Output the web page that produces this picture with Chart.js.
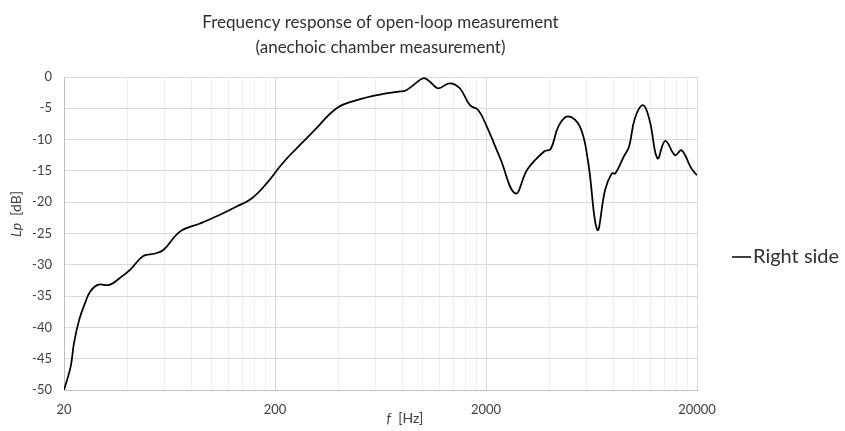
<!DOCTYPE html>
<html>
<head>
<meta charset="utf-8">
<script src="https://cdn.jsdelivr.net/npm/chart.js@4.4.0/dist/chart.umd.min.js"></script>
<style>
  html, body { margin: 0; padding: 0; background: #fff; }
  #wrap { width: 845px; height: 431px; }
</style>
</head>
<body>
<div id="wrap"><canvas id="myChart" width="845" height="431"></canvas></div>
<script>
// data
let freqs = [20, 21.5, 22.3, 23.6, 25.1, 26.6, 28.9, 32.9, 36.8, 41.1, 47.5, 54.1, 59.3, 70.9, 88.2, 109.8,
  131.6, 155, 182.6, 211, 235, 262, 304, 392, 488, 628, 786, 829, 905, 1010, 1084, 1184, 1346, 1503,
  1678, 1840, 2016, 2336, 2755, 3150, 3770, 4050, 4420, 4900, 5570, 6080, 6740, 7340, 7900, 8200,
  9000, 9530, 10160, 11100, 11920, 13000, 14140, 15760, 16900, 18800, 20000]
let levels = [-50, -46.3, -42.5, -38.8, -36.2, -34.3, -33.2, -33.2, -32.1, -30.8, -28.6, -28.2, -27.6, -24.7, -23.4, -22.0,
  -20.7, -19.4, -17.0, -14.3, -12.5, -10.9, -8.7, -5.0, -3.7, -2.8, -2.3, -2.2, -1.3, -0.2, -0.75, -1.8, -1.0, -1.8,
  -4.5, -5.3, -7.9, -13.0, -18.6, -14.7, -11.9, -11.5, -7.8, -6.3, -7.9, -13.3, -24.4, -18.0, -15.4, -15.4,
  -12.7, -11.1, -6.6, -4.5, -6.9, -13.0, -10.2, -12.5, -11.7, -14.6, -15.7]
let xLabels = [20, 200, 2000, 20000]
let seriesName = 'Right side'
let titleLines = ['Frequency response of open-loop measurement', '(anechoic chamber measurement)']

let font = 'Lato'
let textColor = '#303030'
let tickColor = '#404040'

let points = freqs.map((f, i) => ({ x: f, y: levels[i] }))

// gridline positions like excel: 20,40,...,180,200,400,...
let xTicks = []
for (let d = 20; d <= 20000; d *= 10) {
  for (let k = 1; k <= 9; k++) {
    let v = d * k
    if (v <= 20000) xTicks.push(v)
  }
}

// axis titles (italic symbol + normal unit) and the legend on the right
let extras = {
  id: 'extras',
  afterDraw(chart) {
    let c = chart.ctx
    c.save()
    c.fillStyle = tickColor
    c.textBaseline = 'middle'

    // y title
    c.save()
    c.translate(16, 214)
    c.rotate(-Math.PI / 2)
    c.font = 'italic 14px ' + font
    let a = c.measureText('Lp').width
    c.font = '14px ' + font
    let b = c.measureText('  [dB]').width
    let x0 = -(a + b) / 2
    c.textAlign = 'left'
    c.font = 'italic 14px ' + font
    c.fillText('Lp', x0, 0)
    c.font = '14px ' + font
    c.fillText('  [dB]', x0 + a, 0)
    c.restore()

    // x title
    c.font = 'italic 14px ' + font
    a = c.measureText('f').width
    c.font = '14px ' + font
    b = c.measureText('  [Hz]').width
    x0 = 405 - (a + b) / 2
    c.textAlign = 'left'
    c.font = 'italic 14px ' + font
    c.fillText('f', x0, 418)
    c.font = '14px ' + font
    c.fillText('  [Hz]', x0 + a, 418)

    // legend
    let ds = chart.data.datasets[0]
    c.fillStyle = textColor
    c.strokeStyle = ds.borderColor
    c.lineWidth = 1.5
    c.beginPath()
    c.moveTo(732, 257)
    c.lineTo(751, 257)
    c.stroke()
    c.font = '20px ' + font
    c.fillText(ds.label, 753, 257)
    c.restore()
  }
}

new Chart(document.getElementById('myChart'), {
  type: 'line',
  data: {
    datasets: [{
      label: seriesName,
      data: points,
      borderColor: '#000000',
      borderWidth: 1.75,
      pointRadius: 0,
      tension: 0.4,
      fill: false
    }]
  },
  options: {
    responsive: false,
    animation: false,
    layout: { padding: { left: 0, right: 148, top: 0, bottom: 0 } },
    plugins: {
      legend: { display: false },
      tooltip: { enabled: false },
      title: {
        display: true,
        text: titleLines,
        color: textColor,
        fullSize: false,
        font: { family: font, size: 17, weight: 'normal', lineHeight: 25 / 17 },
        padding: { top: 10, bottom: 17 }
      }
    },
    scales: {
      x: {
        type: 'logarithmic',
        min: 20,
        max: 20000,
        afterBuildTicks: (scale) => {
          scale.ticks = xTicks.map(v => ({ value: v }))
        },
        afterFit: (scale) => { scale.height = 41 },
        ticks: {
          autoSkip: false,
          maxRotation: 0,
          padding: 12,
          color: tickColor,
          font: { family: font, size: 13 },
          callback: (v) => xLabels.includes(v) ? String(v) : ''
        },
        grid: {
          drawTicks: false,
          color: (ctx) => xLabels.includes(ctx.tick && ctx.tick.value) ? '#d9d9d9' : '#efefef',
          lineWidth: 1
        },
        border: { color: '#bfbfbf', width: 1 }
      },
      y: {
        min: -50,
        max: 0,
        afterFit: (scale) => { scale.width = 64 },
        ticks: {
          stepSize: 5,
          padding: 12,
          color: tickColor,
          font: { family: font, size: 13 }
        },
        grid: {
          drawTicks: false,
          color: '#d9d9d9',
          lineWidth: 1
        },
        border: { color: '#bfbfbf', width: 1 }
      }
    }
  },
  plugins: [extras]
})
</script>
</body>
</html>
